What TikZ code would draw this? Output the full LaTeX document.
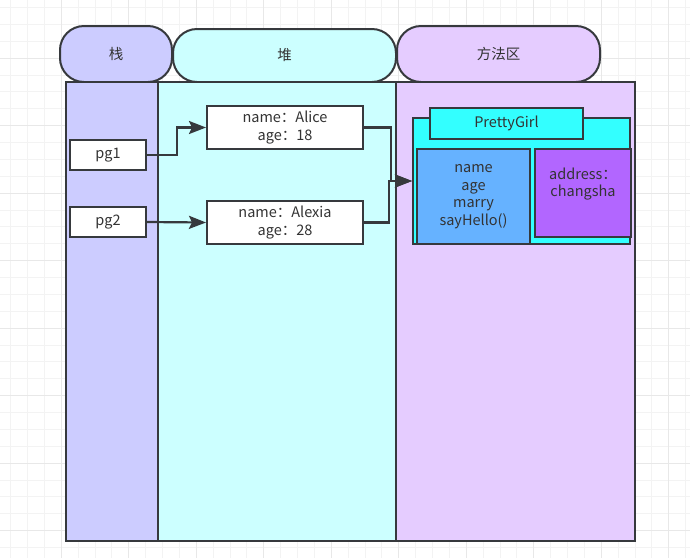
\documentclass[tikz,border=0pt]{standalone}
\usepackage{fontspec}
\setmainfont{Noto Sans CJK SC}
\usetikzlibrary{arrows.meta}
\definecolor{stroke}{HTML}{36393D}
\definecolor{ink}{HTML}{333333}
\definecolor{stackfill}{HTML}{CCCCFF}
\definecolor{heapfill}{HTML}{CCFFFF}
\definecolor{methodfill}{HTML}{E5CCFF}
\definecolor{classfill}{HTML}{33FFFF}
\definecolor{fieldfill}{HTML}{66B2FF}
\definecolor{attrfill}{HTML}{B266FF}
\definecolor{gridminor}{HTML}{F3F3F3}
\definecolor{gridmajor}{HTML}{E8E8E8}
\tikzset{
    every node/.style={font=\fontsize{14.5pt}{17.7pt}\selectfont, text=ink,
        inner sep=0pt, align=center},
    lane-head/.style={draw=stroke, line width=2pt, rounded corners=24pt},
    lane/.style={draw=stroke, line width=2pt},
    obj-box/.style={draw=stroke, line width=2pt, fill=white},
    link/.style={draw=stroke, line width=2.2pt,
        -{Stealth[length=17pt, width=13pt, inset=3pt]}}
}

\begin{document}
\begin{tikzpicture}[x=1pt, y=-1pt]
    \useasboundingbox[fill=white] (0, 0) rectangle (690, 558);
    % background grid
    \foreach \i in {0,...,40}
        \draw[gridminor, line width=0.8pt] ({10.6+\i*16.875}, 0) -- ({10.6+\i*16.875}, 558);
    \foreach \j in {0,...,32}
        \draw[gridminor, line width=0.8pt] (0, {7.4+\j*16.875}) -- (690, {7.4+\j*16.875});
    \foreach \i in {3,7,...,39}
        \draw[gridmajor, line width=0.8pt] ({10.6+\i*16.875}, 0) -- ({10.6+\i*16.875}, 558);
    \foreach \j in {3,7,...,31}
        \draw[gridmajor, line width=0.8pt] (0, {7.4+\j*16.875}) -- (690, {7.4+\j*16.875});

    % lane headers
    \node[lane-head, fill=stackfill, minimum width=112pt, minimum height=56pt]
        (stack-head) at (116, 54) {栈};
    \node[lane-head, fill=heapfill, minimum width=223pt, minimum height=53pt]
        (heap-head) at (284.5, 55.5) {堆};
    \node[lane-head, fill=methodfill, minimum width=203pt, minimum height=56pt]
        (method-head) at (498.5, 54) {方法区};

    % lane bodies
    \node[lane, fill=stackfill, minimum width=92pt, minimum height=459pt]
        (stack-lane) at (112, 311.5) {};
    \node[lane, fill=heapfill, minimum width=238pt, minimum height=459pt]
        (heap-lane) at (277, 311.5) {};
    \node[lane, fill=methodfill, minimum width=239pt, minimum height=459pt]
        (method-lane) at (515.5, 311.5) {};

    % references on the stack
    \node[obj-box, minimum width=76pt, minimum height=30pt] (pg1) at (108, 155) {pg1};
    \node[obj-box, minimum width=76pt, minimum height=30pt] (pg2) at (108, 222) {pg2};

    % objects on the heap
    \node[obj-box, minimum width=156pt, minimum height=43pt] (alice) at (285, 127.5)
        {name：Alice\\age：18};
    \node[obj-box, minimum width=156pt, minimum height=43pt] (alexia) at (285, 222.5)
        {name：Alexia\\age：28};

    % class in the method area
    \node[obj-box, fill=classfill, minimum width=217pt, minimum height=126pt]
        (class-body) at (521.5, 181) {};
    \node[obj-box, fill=classfill, minimum width=153pt, minimum height=31pt]
        (class-title) at (506.5, 123.5) {PrettyGirl};
    \node[obj-box, fill=fieldfill, minimum width=113pt, minimum height=95pt]
        (class-fields) at (473.5, 196.5) {name\\age\\marry\\sayHello()};
    \node[obj-box, fill=attrfill, minimum width=96pt, minimum height=88pt]
        (class-attrs) at (583, 193) {};
    \node (attrs-text) at (583, 184) {address：\\changsha};

    \draw[link] (pg1.east) -- ++(30, 0) |- (alice.west);
    \draw[link] (pg2.east) -- (alexia.west);
    \draw[link] (alice.east) -- ++(27, 0) |- (class-body.west);
    \draw[link] (alexia.east) -- ++(25, 0) |- (class-body.west);
\end{tikzpicture}
\end{document}
